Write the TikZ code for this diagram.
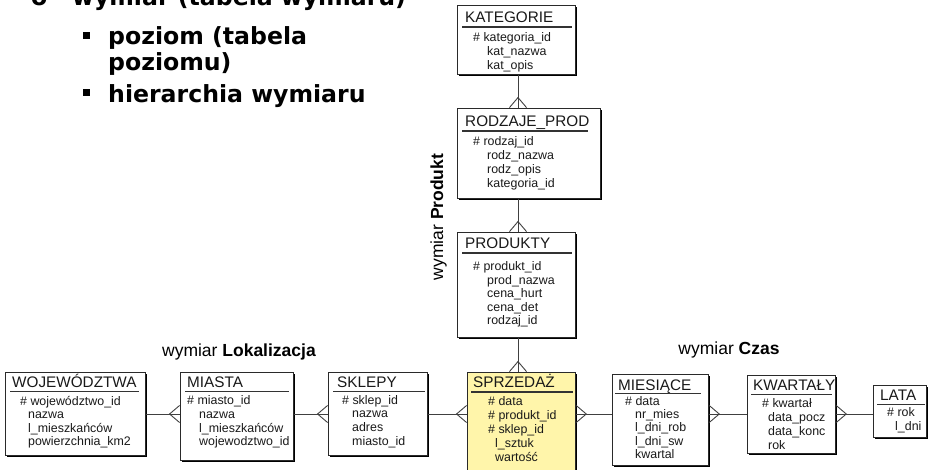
\documentclass[tikz,border=0pt]{standalone}
\usepackage{fontspec}
\setmainfont{Liberation Sans}
\newfontfamily\punktyfont{DejaVu Sans}
\usetikzlibrary{arrows.meta,shadows,positioning}

\definecolor{faktkolor}{HTML}{FFF5AA}
\definecolor{ramka}{HTML}{2A2A2A}

\newcommand{\lista}[1]{\begin{tabular}[t]{@{}l@{}}#1\end{tabular}}
\newcommand{\wc}[1]{\hspace*{#1pt}}

\tikzset{
  tabela/.style={draw=ramka, line width=0.8pt, fill=white, anchor=north west, inner sep=0pt,
    drop shadow={shadow xshift=2pt, shadow yshift=-2pt, fill=black, opacity=1}},
  naglowek/.style={anchor=base west, inner sep=0pt, text=black!90, font=\fontsize{15.3}{17}\selectfont},
  atrybuty/.style={anchor=base west, inner sep=0pt, text=black!90, font=\fontsize{12.4}{#1}\selectfont},
  atrybuty/.default=14,
  kreska/.style={line width=1.2pt, draw=black!80},
  lacznik/.style={line width=0.9pt, draw=black!75,
    postaction={draw, -{Straight Barb[reversed,length=10pt,width=17pt]}}},
  punkt/.style={inner sep=0pt, font=\punktyfont\bfseries\fontsize{23.6}{25}\selectfont},
  kwadrat/.style={fill=black, inner sep=0pt, minimum size=7pt},
  etykieta/.style={inner sep=0pt, anchor=base, font=\fontsize{17.5}{20}\selectfont}
}

\begin{document}
\begin{tikzpicture}[x=1pt,y=-1pt]
\useasboundingbox (0,0) rectangle (929,470);
\clip (0,0) rectangle (929,470);

% Punkty (tekst slajdu)
\node[punkt, anchor=base west] (punkt0) at (31,6) {o};
\node[punkt, anchor=base west] (wymiar) at (72,6) {wymiar (tabela wymiaru)};
\node[kwadrat] (kw1) at (86,36) {};
\node[punkt, anchor=base west] (poziomt) at (108,45) {\lista{poziom (tabela\\poziomu)}};
\node[kwadrat] (kw2) at (86,93) {};
\node[punkt, anchor=base west] (hierarchia) at (108,103) {hierarchia wymiaru};

% Etykiety wymiarow
\node[etykieta] (lok) at (239,356) {wymiar \textbf{Lokalizacja}};
\node[etykieta] (czas) at (729,355) {wymiar \textbf{Czas}};
\node[etykieta, rotate=90] (prod) at (443,217) {wymiar \textbf{Produkt}};

% KATEGORIE
\node[tabela, minimum width=118pt, minimum height=69pt] (kategorie) at (457,5) {};
\node[naglowek] (kategorie-n) at ([shift={(8,17.5)}]kategorie.north west) {KATEGORIE};
\draw[kreska] ([shift={(5,22)}]kategorie.north west) -- ([shift={(-4,22)}]kategorie.north east);
\node[atrybuty] (kategorie-a) at ([shift={(16,37)}]kategorie.north west)
  {\lista{\# kategoria\_id\\\wc{14}kat\_nazwa\\\wc{14}kat\_opis}};

% RODZAJE_PROD
\node[tabela, minimum width=143pt, minimum height=90pt] (rodzaje) at (457,108) {};
\node[naglowek] (rodzaje-n) at ([shift={(8,18.5)}]rodzaje.north west) {RODZAJE\_PROD};
\draw[kreska] ([shift={(5,23)}]rodzaje.north west) -- ([shift={(-13,23)}]rodzaje.north east);
\node[atrybuty] (rodzaje-a) at ([shift={(16,37.5)}]rodzaje.north west)
  {\lista{\# rodzaj\_id\\\wc{14}rodz\_nazwa\\\wc{14}rodz\_opis\\\wc{14}kategoria\_id}};

% PRODUKTY
\node[tabela, minimum width=118pt, minimum height=105pt] (produkty) at (457,232) {};
\node[naglowek] (produkty-n) at ([shift={(8,16.5)}]produkty.north west) {PRODUKTY};
\draw[kreska] ([shift={(5,21)}]produkty.north west) -- ([shift={(-4,21)}]produkty.north east);
\node[atrybuty=13.6] (produkty-a) at ([shift={(16,38.5)}]produkty.north west)
  {\lista{\# produkt\_id\\\wc{14}prod\_nazwa\\\wc{14}cena\_hurt\\\wc{14}cena\_det\\\wc{14}rodzaj\_id}};

% WOJEWODZTWA
\node[tabela, minimum width=140pt, minimum height=83pt] (wojewodztwa) at (5,372) {};
\node[naglowek] (wojewodztwa-n) at ([shift={(7,15.5)}]wojewodztwa.north west) {WOJEWÓDZTWA};
\draw[kreska] ([shift={(5,19.5)}]wojewodztwa.north west) -- ([shift={(-7,19.5)}]wojewodztwa.north east);
\node[atrybuty=13.6] (wojewodztwa-a) at ([shift={(15,33)}]wojewodztwa.north west)
  {\lista{\# województwo\_id\\\wc{8}nazwa\\\wc{8}l\_mieszkańców\\\wc{8}powierzchnia\_km2}};

% MIASTA
\node[tabela, minimum width=113pt, minimum height=88pt] (miasta) at (180,372) {};
\node[naglowek] (miasta-n) at ([shift={(7,15.5)}]miasta.north west) {MIASTA};
\draw[kreska] ([shift={(5,19.5)}]miasta.north west) -- ([shift={(-5,19.5)}]miasta.north east);
\node[atrybuty=13.8] (miasta-a) at ([shift={(7,32.5)}]miasta.north west)
  {\lista{\# miasto\_id\\\wc{12}nazwa\\\wc{12}l\_mieszkańców\\\wc{12}wojewodztwo\_id}};

% SKLEPY
\node[tabela, minimum width=99pt, minimum height=83pt] (sklepy) at (328,372) {};
\node[naglowek] (sklepy-n) at ([shift={(9,15.5)}]sklepy.north west) {SKLEPY};
\draw[kreska] ([shift={(5,19.5)}]sklepy.north west) -- ([shift={(-3,19.5)}]sklepy.north east);
\node[atrybuty=13.8] (sklepy-a) at ([shift={(14,32)}]sklepy.north west)
  {\lista{\# sklep\_id\\\wc{10}nazwa\\\wc{10}adres\\\wc{10}miasto\_id}};

% SPRZEDAZ (fakty)
\node[tabela, fill=faktkolor, minimum width=108pt, minimum height=110pt] (sprzedaz) at (467,372) {};
\node[naglowek] (sprzedaz-n) at ([shift={(6,15.5)}]sprzedaz.north west) {SPRZEDAŻ};
\draw[kreska] ([shift={(4,20)}]sprzedaz.north west) -- ([shift={(-3,20)}]sprzedaz.north east);
\node[atrybuty=14.2] (sprzedaz-a) at ([shift={(21,33)}]sprzedaz.north west)
  {\lista{\# data\\\# produkt\_id\\\# sklep\_id\\\wc{7}l\_sztuk\\\wc{7}wartość}};

% MIESIACE
\node[tabela, minimum width=96pt, minimum height=91pt] (miesiace) at (612,374) {};
\node[naglowek] (miesiace-n) at ([shift={(6,16)}]miesiace.north west) {MIESIĄCE};
\draw[kreska] ([shift={(3,19.5)}]miesiace.north west) -- ([shift={(-8,19.5)}]miesiace.north east);
\node[atrybuty=13.4] (miesiace-a) at ([shift={(13,31)}]miesiace.north west)
  {\lista{\# data\\\wc{10}nr\_mies\\\wc{10}l\_dni\_rob\\\wc{10}l\_dni\_sw\\\wc{10}kwartal}};

% KWARTALY
\node[tabela, minimum width=88pt, minimum height=78pt] (kwartaly) at (747,375) {};
\node[naglowek] (kwartaly-n) at ([shift={(6,15.5)}]kwartaly.north west) {KWARTAŁY};
\draw[kreska] ([shift={(4,19.5)}]kwartaly.north west) -- ([shift={(-4,19.5)}]kwartaly.north east);
\node[atrybuty=14] (kwartaly-a) at ([shift={(15,32)}]kwartaly.north west)
  {\lista{\# kwartał\\\wc{6}data\_pocz\\\wc{6}data\_konc\\\wc{6}rok}};

% LATA
\node[tabela, minimum width=53pt, minimum height=52pt] (lata) at (873,385) {};
\node[naglowek] (lata-n) at ([shift={(7,15.5)}]lata.north west) {LATA};
\draw[kreska] ([shift={(4,19.5)}]lata.north west) -- ([shift={(-2,19.5)}]lata.north east);
\node[atrybuty] (lata-a) at ([shift={(14,31.5)}]lata.north west)
  {\lista{\# rok\\\wc{8}l\_dni}};

% Polaczenia (kurza stopka po stronie "wiele")
\coordinate (poziom) at (0,414);
\coordinate (pion) at (518,0);
\draw[lacznik] (kategorie.south -| pion) -- (rodzaje.north -| pion);
\draw[lacznik] (rodzaje.south -| pion) -- (produkty.north -| pion);
\draw[lacznik] (produkty.south -| pion) -- (sprzedaz.north -| pion);
\draw[lacznik] (wojewodztwa.east |- poziom) -- (miasta.west |- poziom);
\draw[lacznik] (miasta.east |- poziom) -- (sklepy.west |- poziom);
\draw[lacznik] (sklepy.east |- poziom) -- (sprzedaz.west |- poziom);
\draw[lacznik] (miesiace.west |- poziom) -- (sprzedaz.east |- poziom);
\draw[lacznik] (kwartaly.west |- poziom) -- (miesiace.east |- poziom);
\draw[lacznik] (lata.west |- poziom) -- (kwartaly.east |- poziom);

\end{tikzpicture}
\end{document}
